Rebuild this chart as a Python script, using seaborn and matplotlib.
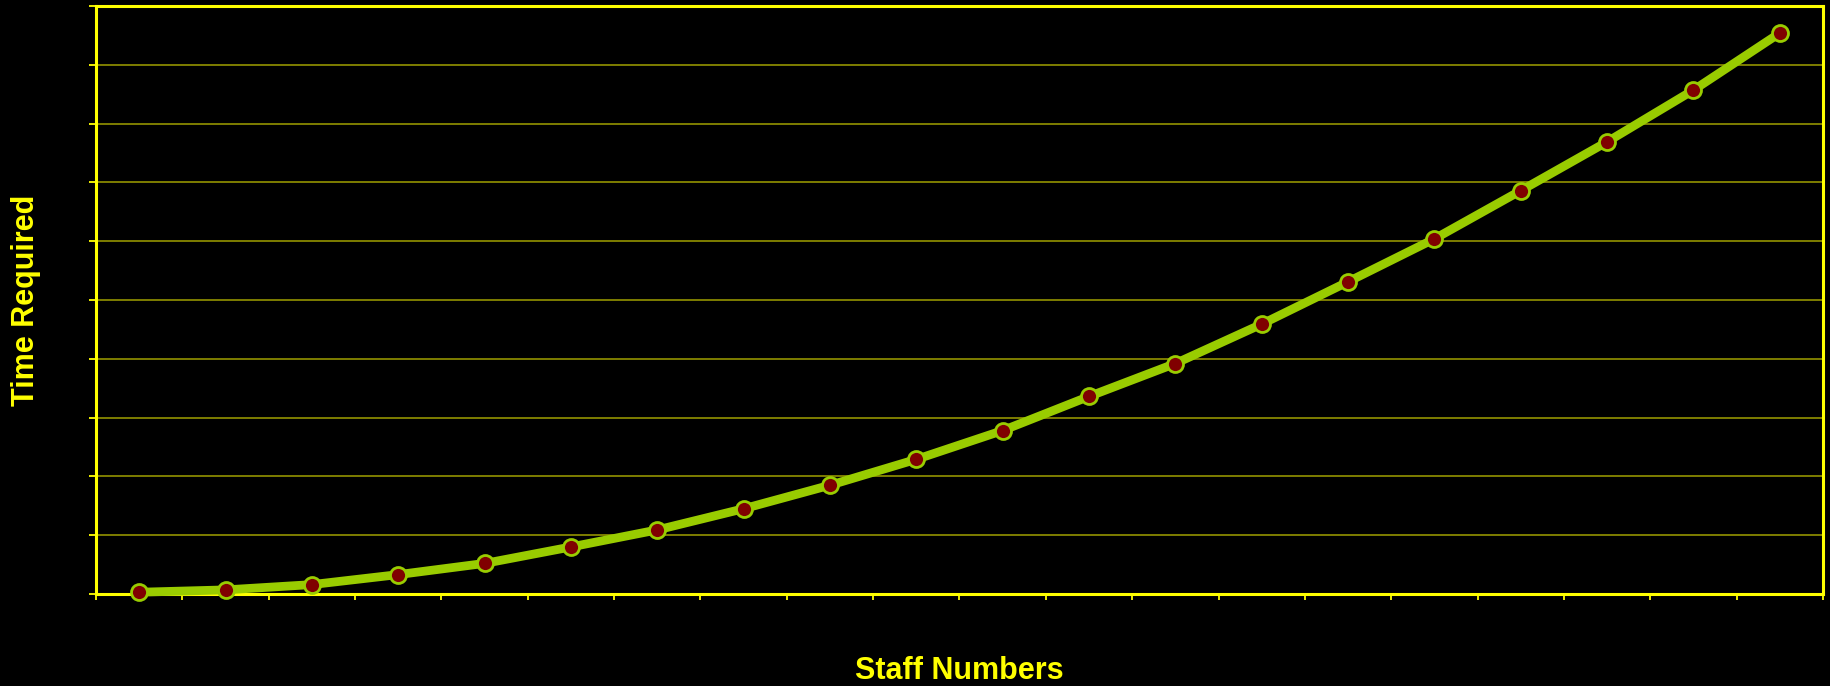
import matplotlib
matplotlib.use("Agg")
import matplotlib.pyplot as plt
import seaborn as sns
import numpy as np
import pandas as pd

# data
staff = [str(i) for i in range(1, 21)]
time_required = [0.3, 0.7, 1.6, 3.3, 5.2, 8.0, 10.9, 14.5, 18.5, 22.9,
                 27.8, 33.6, 39.2, 45.9, 53.1, 60.4, 68.6, 76.9, 85.7, 95.4]
y_ticks = list(range(0, 101, 10))

df = pd.DataFrame({"Staff Numbers": staff, "Time Required": time_required})

sns.set_theme(style="white")
plt.rcParams["font.family"] = ["Liberation Sans", "DejaVu Sans"]

fig = plt.figure(figsize=(18.31, 6.86), dpi=100, facecolor="black")
ax = fig.add_axes([96/1831, 92/686, 1727/1831, 588/686])
ax.set_facecolor("black")

sns.pointplot(data=df, x="Staff Numbers", y="Time Required", ax=ax,
              color="#99cc00", markers="o", linestyles="-",
              errorbar=None)
for line in ax.lines:
    line.set_linewidth(6.3)
    line.set_markersize(11.5)
    line.set_markeredgewidth(2.0)
    line.set_markerfacecolor("#800000")
    line.set_markeredgecolor("#99cc00")
    line.set_clip_on(False)
    line.set_zorder(5)

ax.set_xlim(-0.5, len(staff) - 0.5)
ax.set_ylim(0, 100)
ax.set_yticks(y_ticks)
ax.set_yticklabels([str(v) for v in y_ticks], color="black", fontsize=16)
ax.set_xticks(range(len(staff)))
ax.set_xticklabels(staff, color="black", fontsize=16)
ax.set_xticks(np.arange(-0.5, len(staff), 1.0), minor=True)
ax.tick_params(axis="x", which="major", length=0, pad=12, bottom=True)
ax.tick_params(axis="x", which="minor", length=4, width=1.3, color="#ffff00",
               direction="out", bottom=True)
ax.tick_params(axis="y", which="major", length=5, width=1.3, color="#ffff00",
               direction="out", left=True)

ax.yaxis.grid(True, color="#a0a000", linewidth=1.1)
ax.xaxis.grid(False)
ax.set_axisbelow(True)

for s in ax.spines.values():
    s.set_visible(True)
    s.set_color("#ffff00")
    s.set_linewidth(2.2)

ax.set_xlabel("Staff Numbers", color="#ffff00", fontsize=22, fontweight="bold")
ax.set_ylabel("Time Required", color="#ffff00", fontsize=22, fontweight="bold")
ax.xaxis.set_label_coords(0.5, -0.105)
ax.yaxis.set_label_coords(-0.032, 0.5)

fig.savefig("out.png", dpi=100, facecolor="black")
